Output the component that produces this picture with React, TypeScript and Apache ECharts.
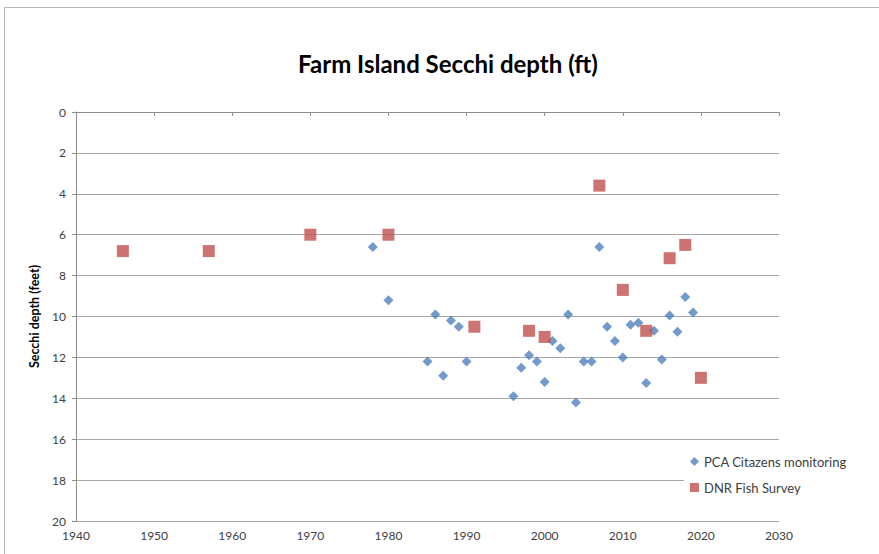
import React, { useEffect, useRef } from "react";
import * as echarts from "echarts";

const pcaYears = [1978, 1980, 1985, 1986, 1987, 1988, 1989, 1990, 1996, 1997, 1998, 1999, 2000, 2001, 2002, 2003, 2004, 2005, 2006, 2007, 2008, 2009, 2010, 2011, 2012, 2013, 2014, 2015, 2016, 2017, 2018, 2019];
const pcaDepth = [6.6, 9.2, 12.2, 9.9, 12.9, 10.2, 10.5, 12.2, 13.9, 12.5, 11.9, 12.2, 13.2, 11.2, 11.55, 9.9, 14.2, 12.2, 12.2, 6.6, 10.5, 11.2, 12.0, 10.4, 10.3, 13.25, 10.7, 12.1, 9.95, 10.75, 9.05, 9.8];

const dnrYears = [1946, 1957, 1970, 1980, 1991, 1998, 2000, 2007, 2010, 2013, 2016, 2018, 2020];
const dnrDepth = [6.8, 6.8, 6.0, 6.0, 10.5, 10.7, 11.0, 3.6, 8.7, 10.7, 7.15, 6.5, 13.0];

const seriesNames = ["PCA Citazens monitoring", "DNR Fish Survey"];
const titleText = "Farm Island Secchi depth (ft)";
const yAxisTitle = "Secchi depth (feet)";

export default function App() {
  const ref = useRef<HTMLDivElement>(null);
  useEffect(() => {
    document.body.style.margin = "0";
    if (!ref.current) return;
    const chart = echarts.init(ref.current, null, { renderer: "svg" });
    const font = "Lato, 'Open Sans', sans-serif";
    chart.setOption({
      animation: false,
      backgroundColor: "#ffffff",
      title: {
        text: titleText,
        left: 443,
        textAlign: "center",
        top: 46,
        textStyle: { fontFamily: font, fontSize: 24, fontWeight: "bold", color: "#000000" },
      },
      graphic: [
        {
          type: "rect",
          shape: { x: 4.5, y: 7.5, width: 900, height: 600 },
          style: { fill: "none", stroke: "#b5b5b5", lineWidth: 1 },
          silent: true,
        },
      ],
      grid: { left: 76, top: 112, width: 703, height: 409, containLabel: false },
      legend: {
        orient: "vertical",
        left: 684,
        top: 451,
        itemWidth: 9,
        itemHeight: 9,
        itemGap: 13,
        padding: [4, 8, 4, 6],
        backgroundColor: "#ffffff",
        textStyle: { fontFamily: font, fontSize: 13, color: "#404040" },
        data: [
          { name: seriesNames[0], icon: "diamond" },
          { name: seriesNames[1], icon: "rect" },
        ],
      },
      xAxis: {
        type: "value",
        min: 1940,
        max: 2030,
        interval: 10,
        axisLine: { lineStyle: { color: "#8c8c8c", width: 1 } },
        axisTick: { show: true, length: 4, lineStyle: { color: "#8c8c8c" } },
        axisLabel: {
          fontFamily: font,
          fontSize: 12,
          color: "#404040",
          margin: 8,
          formatter: (v: number) => String(v),
        },
        splitLine: { show: false },
      },
      yAxis: {
        type: "value",
        inverse: true,
        min: 0,
        max: 20,
        interval: 2,
        name: yAxisTitle,
        nameLocation: "middle",
        nameGap: 32,
        nameTextStyle: { fontFamily: font, fontSize: 12.5, fontWeight: "bold", color: "#000000" },
        axisLine: { show: true, lineStyle: { color: "#8c8c8c", width: 1 } },
        axisTick: { show: true, length: 4, lineStyle: { color: "#8c8c8c" } },
        axisLabel: { fontFamily: font, fontSize: 12, color: "#404040", margin: 10 },
        splitLine: { show: true, lineStyle: { color: "#a6a6a6", width: 1 } },
      },
      series: [
        {
          name: seriesNames[0],
          type: "scatter",
          symbol: "diamond",
          symbolSize: 10,
          itemStyle: { color: "#4F81BD" },
          data: pcaYears.map((y, i) => [y, pcaDepth[i]]),
          z: 3,
        },
        {
          name: seriesNames[1],
          type: "scatter",
          symbol: "rect",
          symbolSize: 12,
          itemStyle: { color: "#C0504D" },
          data: dnrYears.map((y, i) => [y, dnrDepth[i]]),
          z: 4,
        },
      ],
    });
    return () => chart.dispose();
  }, []);
  return <div ref={ref} style={{ width: 879, height: 554 }} />;
}
